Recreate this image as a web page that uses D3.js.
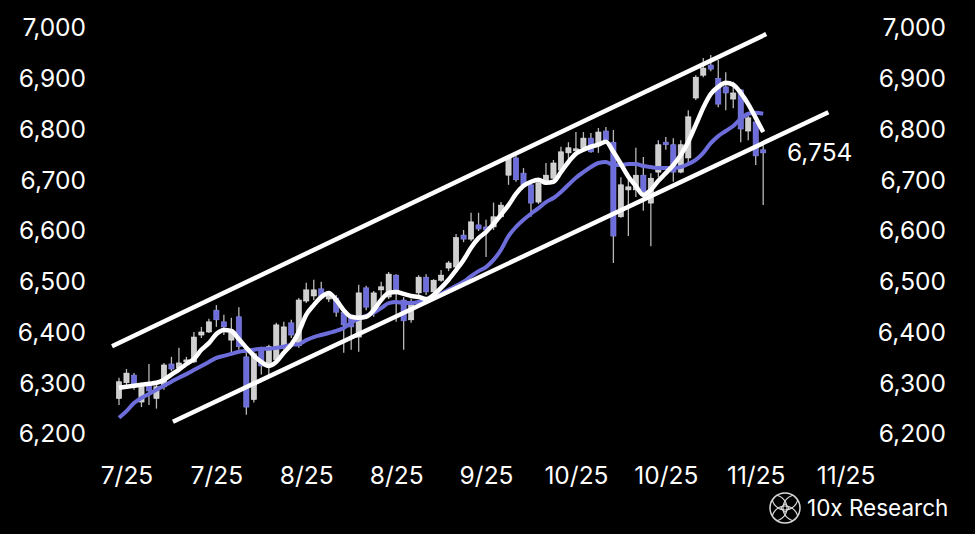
<!DOCTYPE html>
<html><head><meta charset="utf-8">
<script src="https://cdn.jsdelivr.net/npm/d3@7"></script>
<style>html,body{margin:0;padding:0;background:#000;} svg{display:block;}</style>
</head><body>
<svg id="chart" width="975" height="534"></svg>
<script>
// ---- data ----
const xTickIndex = [1, 13, 25, 37, 49, 61, 73, 85, 97];
const xTickLabels = ["7/25", "7/25", "8/25", "8/25", "9/25", "10/25", "10/25", "11/25", "11/25"];
const yTicks = [6200, 6300, 6400, 6500, 6600, 6700, 6800, 6900, 7000];

const open = [6270,6301,6316,6263,6301,6270,6293,6338,6330,6342,
  6342,6395,6401,6444,6421,6385,6431,6352,6268,6366,
  6336,6346,6372,6419,6374,6462,6472,6486,6466,6468,
  6440,6429,6391,6488,6441,6484,6470,6513,6464,6425,
  6478,6509,6480,6503,6527,6529,6592,6584,6612,6608,
  6608,6628,6710,6744,6714,6691,6657,6697,6704,6720,
  6754,6758,6764,6783,6770,6797,6775,6628,6681,6681,
  6710,6655,6716,6775,6770,6716,6744,6862,6907,6927,
  6901,6884,6860,6878,6797,6815,6760];
const close = [6303,6320,6293,6293,6285,6293,6336,6328,6340,6346,
  6391,6401,6421,6425,6411,6399,6372,6253,6358,6334,
  6372,6415,6411,6395,6464,6484,6484,6468,6474,6440,
  6415,6411,6478,6450,6478,6490,6515,6480,6423,6460,
  6509,6480,6503,6513,6537,6587,6584,6618,6604,6602,
  6628,6651,6744,6701,6691,6655,6695,6710,6734,6756,
  6764,6762,6783,6756,6795,6779,6590,6691,6687,6710,
  6677,6704,6770,6770,6716,6770,6825,6903,6921,6919,
  6850,6872,6872,6801,6823,6748,6754];
const high = [6311,6328,6320,6301,6338,6303,6340,6352,6370,6352,
  6401,6411,6427,6454,6435,6429,6450,6360,6362,6372,
  6376,6419,6421,6425,6468,6498,6504,6500,6482,6474,
  6446,6433,6494,6492,6482,6500,6519,6515,6470,6466,
  6513,6515,6505,6523,6541,6594,6602,6636,6636,6622,
  6656,6657,6746,6748,6724,6697,6701,6734,6740,6766,
  6775,6795,6795,6793,6803,6805,6799,6706,6705,6764,
  6746,6714,6779,6785,6783,6779,6838,6907,6941,6947,
  6937,6913,6894,6880,6827,6819,6775];
const low = [6257,6293,6287,6253,6257,6250,6287,6324,6322,6336,
  6340,6389,6399,6411,6395,6360,6366,6238,6262,6317,
  6313,6340,6366,6389,6370,6458,6464,6464,6460,6431,
  6360,6366,6362,6444,6431,6464,6466,6421,6366,6419,
  6472,6474,6466,6500,6521,6527,6578,6580,6600,6549,
  6602,6626,6691,6697,6687,6628,6653,6691,6700,6716,
  6740,6754,6756,6754,6754,6775,6537,6626,6590,6667,
  6640,6570,6706,6760,6697,6714,6730,6858,6903,6915,
  6844,6838,6842,6775,6779,6730,6651];

const maShort = [6291,6293,6295,6297,6299,6301,6307,6317,6327,6338,
  6348,6366,6379,6397,6405,6403,6387,6370,6354,6342,
  6334,6342,6360,6376,6401,6435,6454,6470,6478,6464,
  6444,6431,6429,6431,6444,6464,6478,6480,6476,6472,
  6470,6466,6474,6488,6504,6523,6543,6567,6586,6598,
  6614,6632,6651,6673,6689,6697,6701,6695,6697,6716,
  6736,6752,6760,6766,6770,6776,6756,6732,6707,6689,
  6671,6681,6699,6714,6730,6750,6776,6809,6843,6870,
  6884,6892,6888,6872,6850,6823,6795];
const maLong = [6232,6245,6261,6271,6279,6287,6295,6303,6311,6318,
  6326,6334,6342,6350,6354,6358,6362,6364,6366,6368,
  6368,6370,6372,6376,6377,6385,6391,6395,6399,6403,
  6409,6419,6427,6433,6439,6448,6458,6460,6458,6458,
  6460,6464,6468,6476,6484,6492,6500,6511,6521,6529,
  6543,6563,6590,6608,6622,6634,6645,6657,6665,6677,
  6691,6705,6716,6726,6734,6736,6730,6730,6732,6732,
  6728,6726,6724,6724,6724,6726,6732,6740,6754,6773,
  6787,6797,6807,6821,6831,6833,6831];

const upperChannelIdx = [-0.93, 86.4];
const upperChannelVal = [6373, 6988];
const lowerChannelIdx = [7.2, 94.7];
const lowerChannelVal = [6224, 6834];

const lastLabel = "6,754";
const brand = "10x Research";

// ---- drawing ----
const W = 975, H = 534;
const BLUE = "#6d6ddb", GRAY = "#cfcfcf", FONT = "Inter, 'Noto Sans', sans-serif";
const svg = d3.select("#chart");
svg.append("rect").attr("width", W).attr("height", H).attr("fill", "#000");

const x = d3.scaleLinear().domain([0, 86]).range([119, 763.2]);
const y = d3.scaleLinear().domain([6200, 7000]).range([434, 28]);

function styleAxis(g) {
  g.select(".domain").remove();
  g.selectAll("line").remove();
  g.selectAll("text").attr("fill", "#fff").style("font-family", FONT).style("font-size", "24.5px");
}
svg.append("g").attr("transform", "translate(86,0)")
  .call(d3.axisLeft(y).tickValues(yTicks).tickFormat(d3.format(",")).tickSize(0).tickPadding(0))
  .call(styleAxis);
svg.append("g").attr("transform", "translate(946,0)")
  .call(d3.axisLeft(y).tickValues(yTicks).tickFormat(d3.format(",")).tickSize(0).tickPadding(0))
  .call(styleAxis);
svg.append("g").attr("transform", "translate(0,467)")
  .call(d3.axisBottom(x).tickValues(xTickIndex).tickFormat((d, i) => xTickLabels[i]).tickSize(0).tickPadding(0))
  .call(styleAxis);

const candles = d3.range(open.length).map(i => ({i, o: open[i], h: high[i], l: low[i], c: close[i]}));
const cg = svg.append("g");
cg.selectAll("line.wick").data(candles).join("line")
  .attr("x1", d => x(d.i)).attr("x2", d => x(d.i))
  .attr("y1", d => y(d.h)).attr("y2", d => y(d.l))
  .attr("stroke", "#b8b8b8").attr("stroke-width", 1.3);
cg.selectAll("rect.body").data(candles).join("rect")
  .attr("x", d => x(d.i) - 2.6).attr("width", 5.2)
  .attr("y", d => y(Math.max(d.o, d.c)))
  .attr("height", d => Math.max(2, Math.abs(y(d.o) - y(d.c))))
  .attr("fill", d => d.c >= d.o ? GRAY : BLUE)
  .attr("stroke", d => d.c >= d.o ? "#e6e6e6" : "#8a8ae6").attr("stroke-width", 0.6);

const line = d3.line().x((d, i) => x(i)).y(d => y(d)).curve(d3.curveMonotoneX);
svg.append("path").datum(maLong).attr("d", line).attr("fill", "none")
  .attr("stroke", BLUE).attr("stroke-width", 4).attr("stroke-linejoin", "round");
svg.append("path").datum(maShort).attr("d", line).attr("fill", "none")
  .attr("stroke", "#fff").attr("stroke-width", 4.5).attr("stroke-linejoin", "round");

const chLine = d3.line().x(d => x(d[0])).y(d => y(d[1]));
svg.append("path").datum(d3.zip(upperChannelIdx, upperChannelVal)).attr("d", chLine)
  .attr("stroke", "#fff").attr("stroke-width", 4.5).attr("fill", "none");
svg.append("path").datum(d3.zip(lowerChannelIdx, lowerChannelVal)).attr("d", chLine)
  .attr("stroke", "#fff").attr("stroke-width", 4.5).attr("fill", "none");

svg.append("text").attr("x", 787).attr("y", y(close[close.length - 1]) + 8.5)
  .attr("fill", "#fff").style("font-family", FONT).style("font-size", "24.5px").text(lastLabel);

// logo
const lg = svg.append("g").attr("transform", "translate(785,508)");
lg.append("clipPath").attr("id", "lc").append("circle").attr("r", 15);
const inner = lg.append("g").attr("clip-path", "url(#lc)");
[[-11, 0], [11, 0], [0, -11], [0, 11]].forEach(p => {
  inner.append("circle").attr("cx", p[0]).attr("cy", p[1]).attr("r", 13)
    .attr("fill", "none").attr("stroke", "#d8d8d8").attr("stroke-width", 1.2);
});
lg.append("circle").attr("r", 15).attr("fill", "none").attr("stroke", "#d8d8d8").attr("stroke-width", 1.5);
lg.append("rect").attr("x", -3).attr("y", -3).attr("width", 6).attr("height", 6)
  .attr("transform", "rotate(45)").attr("fill", "none").attr("stroke", "#d8d8d8").attr("stroke-width", 1.2);
svg.append("text").attr("x", 807).attr("y", 516).attr("fill", "#fff")
  .style("font-family", FONT).style("font-size", "22.5px").text(brand);
</script>
</body></html>
